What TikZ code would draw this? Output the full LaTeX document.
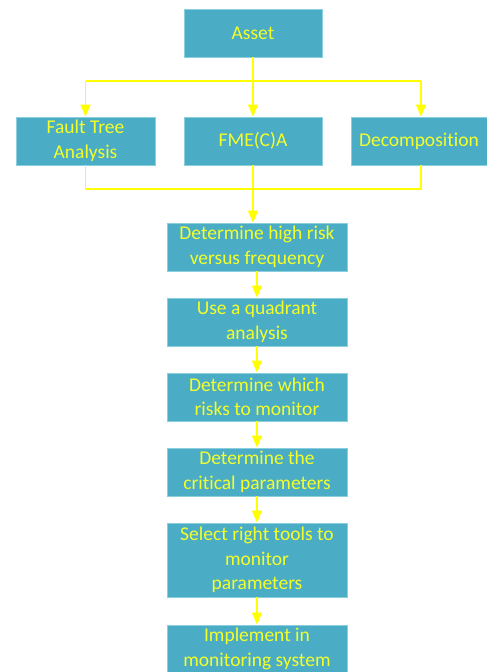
\documentclass[tikz,border=0pt]{standalone}
\usepackage{fontspec}
\setmainfont[Ligatures={NoCommon,NoRequired,NoContextual}]{Carlito}
\usetikzlibrary{arrows.meta}
\definecolor{boxfill}{HTML}{4BACC6}
\definecolor{boxedge}{HTML}{8ACFE0}
\definecolor{txt}{HTML}{F2FF2A}
\definecolor{conn}{HTML}{FFFF00}
\tikzset{
  box/.style={draw=boxedge, line width=0.8pt, fill=boxfill, text=txt, align=center,
    inner sep=0pt, font=\fontsize{19.5}{24.5}\selectfont},
  wire/.style={draw=conn, line width=1.4pt},
  arr/.style={wire, -{Triangle[width=10pt,length=12pt]}},
}
\begin{document}
\begin{tikzpicture}[x=1pt,y=-1pt]
\useasboundingbox (0,0) rectangle (487,672);
\node[box, minimum width=138pt, minimum height=48pt] (asset) at (253,33) {Asset};
\node[box, minimum width=139pt, minimum height=48pt] (fta) at (85.5,141) {Fault Tree\\Analysis};
\node[box, minimum width=138pt, minimum height=48pt] (fme) at (253,141) {FME(C)A};
\node[box, minimum width=136pt, minimum height=48pt] (dec) at (419,141) {Decomposition};
\node[box, minimum width=180pt, minimum height=48pt] (b1) at (257,247) {Determine high risk\\versus frequency};
\node[box, minimum width=180pt, minimum height=48pt] (b2) at (257,322) {Use a quadrant\\analysis};
\node[box, minimum width=180pt, minimum height=48pt] (b3) at (257,397) {Determine which\\risks to monitor};
\node[box, minimum width=180pt, minimum height=48pt] (b4) at (257,472) {Determine the\\critical parameters};
\node[box, minimum width=180pt, minimum height=74pt] (b5) at (257,560) {Select right tools to\\monitor\\parameters};
\node[box, minimum width=180pt, minimum height=48pt] (b6) at (257,649) {Implement in\\monitoring system};
\coordinate (bustop) at (253,81);
\coordinate (busbot) at (253,189);
\coordinate (decx) at (421,0);
% top fan-out
\draw[arr] (asset) -- (fme);
\draw[wire] (fta.north |- bustop) -- (decx |- bustop);
\draw[arr] (fta.north |- bustop) -- (fta.north);
\draw[arr] (decx |- bustop) -- (decx |- dec.north);
% bottom fan-in
\draw[wire] (fta.south) -- (fta.south |- busbot) -- (decx |- busbot) -- (decx |- dec.south);
\draw[arr] (fme.south) -- (fme.south |- b1.north);
% chain
\draw[arr] (b1) -- (b2);
\draw[arr] (b2) -- (b3);
\draw[arr] (b3) -- (b4);
\draw[arr] (b4) -- (b5);
\draw[arr] (b5) -- (b6);
\end{tikzpicture}
\end{document}
